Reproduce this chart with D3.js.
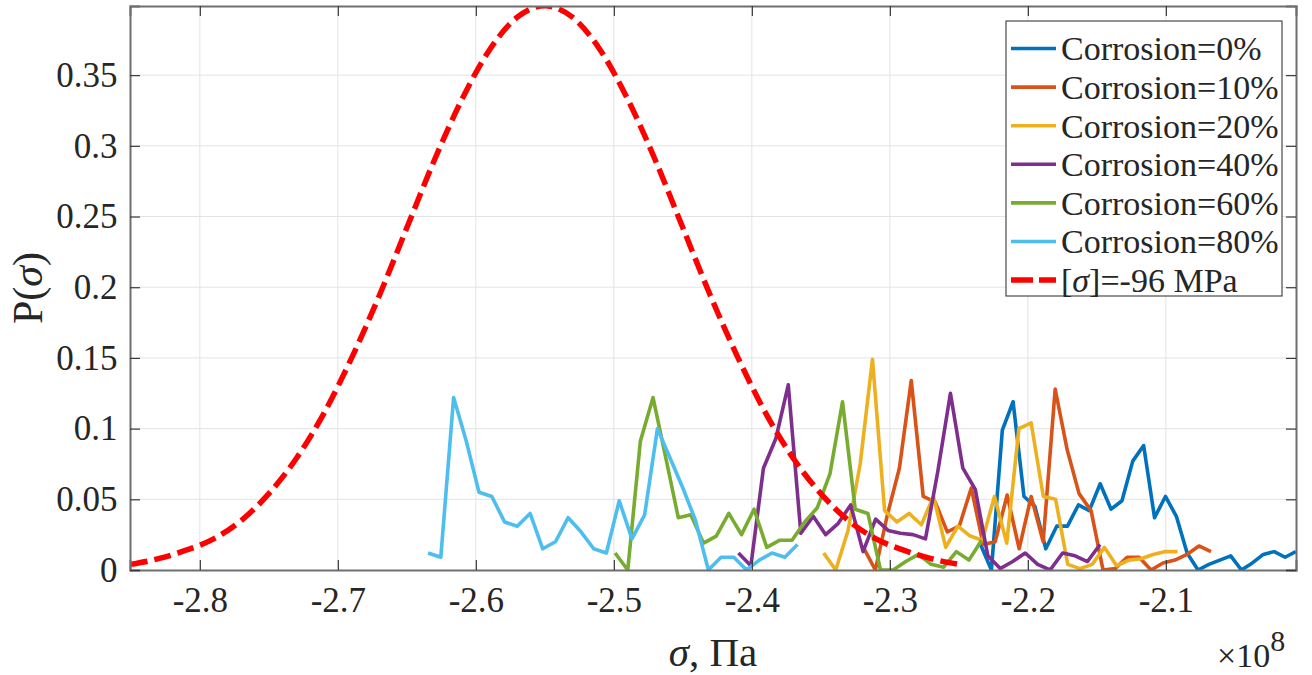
<!DOCTYPE html>
<html>
<head>
<meta charset="utf-8">
<script src="https://cdn.jsdelivr.net/npm/d3@7"></script>
<style>
  body { margin: 0; background: #fff; }
  text { font-family: "Liberation Serif", "Times New Roman", serif; fill: #262626; }
</style>
</head>
<body>
<div id="container"></div>
<script>
const WIDTH = 1312;
const HEIGHT = 675;
const MARGIN = { TOP: 6, RIGHT: 16, BOTTOM: 105, LEFT: 130 };

const width = WIDTH - MARGIN.LEFT - MARGIN.RIGHT;
const height = HEIGHT - MARGIN.TOP - MARGIN.BOTTOM;

// stress in units of 1e8 Pa, probability
const sigma0 = [-2.2343, -2.2264, -2.2185, -2.2107, -2.2028, -2.1949, -2.1870, -2.1791, -2.1713, -2.1634,
                -2.1555, -2.1476, -2.1397, -2.1318, -2.1240, -2.1161, -2.1082, -2.1003, -2.0924, -2.0846,
                -2.0767, -2.0688, -2.0609, -2.0530, -2.0452, -2.0373, -2.0294, -2.0215, -2.0136, -2.0058];
const p0 = [0.018, 0.000, 0.099, 0.119, 0.052, 0.045, 0.015, 0.031, 0.031, 0.046,
            0.042, 0.061, 0.043, 0.049, 0.077, 0.088, 0.037, 0.052, 0.038, 0.012,
            0.000, 0.004, 0.007, 0.010, 0.000, 0.005, 0.011, 0.013, 0.009, 0.013];

const sigma10 = [-2.3192, -2.3105, -2.3018, -2.2931, -2.2845, -2.2758, -2.2671, -2.2584, -2.2497, -2.2410,
                 -2.2323, -2.2237, -2.2150, -2.2063, -2.1976, -2.1889, -2.1802, -2.1715, -2.1629, -2.1542,
                 -2.1455, -2.1368, -2.1281, -2.1194, -2.1107, -2.1021, -2.0934, -2.0847, -2.0760, -2.0673];
const p10 = [0.016, 0.000, 0.039, 0.072, 0.134, 0.052, 0.048, 0.027, 0.031, 0.058,
             0.018, 0.020, 0.053, 0.015, 0.052, 0.020, 0.128, 0.085, 0.054, 0.042,
             0.000, 0.001, 0.009, 0.009, 0.000, 0.005, 0.007, 0.011, 0.017, 0.013];

const sigma20 = [-2.3480, -2.3392, -2.3303, -2.3215, -2.3126, -2.3038, -2.2949, -2.2861, -2.2772, -2.2684,
                 -2.2595, -2.2507, -2.2418, -2.2330, -2.2242, -2.2153, -2.2065, -2.1976, -2.1888, -2.1799,
                 -2.1711, -2.1622, -2.1534, -2.1445, -2.1357, -2.1268, -2.1180, -2.1092, -2.1003, -2.0915];
const p20 = [0.012, 0.000, 0.028, 0.075, 0.149, 0.042, 0.034, 0.040, 0.032, 0.052,
             0.016, 0.031, 0.024, 0.021, 0.052, 0.019, 0.100, 0.104, 0.052, 0.050,
             0.004, 0.001, 0.004, 0.016, 0.003, 0.007, 0.008, 0.011, 0.013, 0.013];

const sigma40 = [-2.4097, -2.4007, -2.3916, -2.3826, -2.3736, -2.3645, -2.3555, -2.3465, -2.3374, -2.3284,
                 -2.3194, -2.3103, -2.3013, -2.2923, -2.2832, -2.2742, -2.2652, -2.2561, -2.2471, -2.2381,
                 -2.2290, -2.2200, -2.2110, -2.2019, -2.1929, -2.1839, -2.1748, -2.1658, -2.1568, -2.1477];
const p40 = [0.012, 0.003, 0.072, 0.093, 0.131, 0.026, 0.038, 0.025, 0.033, 0.046,
             0.013, 0.036, 0.028, 0.026, 0.025, 0.022, 0.070, 0.125, 0.072, 0.057,
             0.010, 0.001, 0.006, 0.012, 0.004, 0.000, 0.012, 0.010, 0.006, 0.018];

const sigma60 = [-2.4991, -2.4899, -2.4808, -2.4716, -2.4625, -2.4533, -2.4442, -2.4350, -2.4258, -2.4167,
                 -2.4075, -2.3984, -2.3892, -2.3800, -2.3709, -2.3617, -2.3526, -2.3434, -2.3343, -2.3251,
                 -2.3159, -2.3068, -2.2976, -2.2885, -2.2793, -2.2701, -2.2610, -2.2518, -2.2427, -2.2335];
const p60 = [0.012, 0.000, 0.091, 0.122, 0.080, 0.037, 0.039, 0.019, 0.024, 0.040,
             0.025, 0.043, 0.016, 0.021, 0.021, 0.034, 0.044, 0.068, 0.119, 0.043,
             0.040, 0.000, 0.000, 0.006, 0.011, 0.004, 0.002, 0.013, 0.007, 0.021];

const sigma80 = [-2.6346, -2.6254, -2.6161, -2.6069, -2.5977, -2.5884, -2.5792, -2.5700, -2.5607, -2.5515,
                 -2.5423, -2.5331, -2.5238, -2.5146, -2.5054, -2.4961, -2.4869, -2.4777, -2.4684, -2.4592,
                 -2.4500, -2.4408, -2.4315, -2.4223, -2.4131, -2.4038, -2.3946, -2.3854, -2.3761, -2.3669];
const p80 = [0.012, 0.009, 0.122, 0.091, 0.055, 0.052, 0.034, 0.031, 0.040, 0.015,
             0.020, 0.037, 0.027, 0.015, 0.012, 0.049, 0.022, 0.039, 0.100, 0.079,
             0.058, 0.035, 0.000, 0.009, 0.009, 0.000, 0.007, 0.012, 0.009, 0.018];

// allowable stress curve
const sigmaAllow = [-2.85, -2.83, -2.81, -2.79, -2.77, -2.75, -2.73, -2.71, -2.69, -2.67, -2.65,
                    -2.63, -2.61, -2.59, -2.57, -2.55, -2.53, -2.51, -2.49, -2.47, -2.45,
                    -2.43, -2.41, -2.39, -2.37, -2.35, -2.33, -2.31, -2.29, -2.27, -2.25];
const pAllow = [0.004, 0.008, 0.014, 0.022, 0.035, 0.054, 0.079, 0.111, 0.150, 0.194, 0.242,
                0.290, 0.333, 0.368, 0.391, 0.399, 0.391, 0.368, 0.333, 0.290, 0.242,
                0.194, 0.150, 0.111, 0.079, 0.054, 0.035, 0.022, 0.014, 0.008, 0.004];

const legendLabels = ['Corrosion=0%', 'Corrosion=10%', 'Corrosion=20%', 'Corrosion=40%',
                      'Corrosion=60%', 'Corrosion=80%'];
const xTicks = [-2.8, -2.7, -2.6, -2.5, -2.4, -2.3, -2.2, -2.1];
const yTicks = [0, 0.05, 0.1, 0.15, 0.2, 0.25, 0.3, 0.35];

const colors = ['#0072BD', '#D95319', '#EDB120', '#7E2F8E', '#77AC30', '#4DBEEE'];

const series = [
  { x: sigma0, y: p0 }, { x: sigma10, y: p10 }, { x: sigma20, y: p20 },
  { x: sigma40, y: p40 }, { x: sigma60, y: p60 }, { x: sigma80, y: p80 }
].map((s, i) => ({ name: legendLabels[i], color: colors[i], points: s.x.map((v, j) => [v, s.y[j]]) }));

const allowPoints = sigmaAllow.map((v, j) => [v, pAllow[j]]);

const svg = d3.select('#container')
              .append('svg')
                .attr('width', WIDTH)
                .attr('height', HEIGHT);

const container = svg.append('g')
                     .attr('transform', `translate(${MARGIN.LEFT}, ${MARGIN.TOP})`);

const xscale = d3.scaleLinear().domain([-2.8506, -2.0057]).range([0, width]);
const yscale = d3.scaleLinear().domain([0, 0.3989]).range([height, 0]);

svg.append('defs').append('clipPath')
     .attr('id', 'clip')
   .append('rect')
     .attr('width', width)
     .attr('height', height);

container.append('rect')
           .attr('width', width)
           .attr('height', height)
           .attr('fill', '#fff');

// grid
container.append('g')
           .selectAll('line')
           .data(xTicks)
           .enter()
           .append('line')
             .attr('x1', d => xscale(d))
             .attr('x2', d => xscale(d))
             .attr('y1', 0)
             .attr('y2', height)
             .attr('stroke', '#e3e3e3')
             .attr('stroke-width', 1);

container.append('g')
           .selectAll('line')
           .data(yTicks.slice(1))
           .enter()
           .append('line')
             .attr('x1', 0)
             .attr('x2', width)
             .attr('y1', d => yscale(d))
             .attr('y2', d => yscale(d))
             .attr('stroke', '#e3e3e3')
             .attr('stroke-width', 1);

// data lines
const line = d3.line()
               .x(d => xscale(d[0]))
               .y(d => yscale(d[1]));

const plot = container.append('g').attr('clip-path', 'url(#clip)');

plot.selectAll('path.series')
    .data(series)
    .enter()
    .append('path')
      .attr('class', 'series')
      .attr('d', d => line(d.points))
      .attr('fill', 'none')
      .attr('stroke', d => d.color)
      .attr('stroke-width', 3.6)
      .attr('stroke-linejoin', 'round');

plot.append('path')
    .attr('d', line.curve(d3.curveMonotoneX)(allowPoints))
    .attr('fill', 'none')
    .attr('stroke', '#FF0000')
    .attr('stroke-width', 5.5)
    .attr('stroke-dasharray', '17,7');

// axes, ticks pointing inward on all four sides
const TICK = 10;
const FONT = '"Liberation Serif", "Times New Roman", serif';
const axisBottom = d3.axisBottom(xscale).tickValues(xTicks).tickSize(-TICK).tickPadding(17)
                     .tickFormat(d => d.toFixed(1));
const axisTop = d3.axisTop(xscale).tickValues(xTicks).tickSize(-TICK).tickFormat('');
const axisLeft = d3.axisLeft(yscale).tickValues(yTicks).tickSize(-TICK).tickPadding(12.5)
                   .tickFormat(d => d === 0 ? '0' : String(+d.toFixed(2)));
const axisRight = d3.axisRight(yscale).tickValues(yTicks).tickSize(-TICK).tickFormat('');

const styleAxis = g => {
  g.attr('font-family', FONT);
  g.select('.domain').attr('stroke', '#6e6e6e').attr('stroke-width', 2);
  g.selectAll('.tick line').attr('stroke', '#3a3a3a').attr('stroke-width', 1.2);
  g.selectAll('.tick text')
   .attr('font-size', 35)
   .attr('fill', '#262626');
};

container.append('g')
           .attr('transform', `translate(0, ${height})`)
           .call(axisBottom)
           .call(styleAxis);
container.append('g').call(axisTop).call(styleAxis);
container.append('g').call(axisLeft).call(styleAxis);
container.append('g')
           .attr('transform', `translate(${width}, 0)`)
           .call(axisRight)
           .call(styleAxis);

// axis labels
const xLabel = container.append('text')
                          .attr('x', width / 2)
                          .attr('y', height + 96)
                          .attr('text-anchor', 'middle')
                          .attr('font-size', 41);
xLabel.append('tspan').attr('font-style', 'italic').text('σ');
xLabel.append('tspan').text(', Πa');

const yLabel = container.append('text')
                          .attr('transform', `translate(-88, ${height / 2}) rotate(-90)`)
                          .attr('text-anchor', 'middle')
                          .attr('font-size', 42);
yLabel.append('tspan').text('P(');
yLabel.append('tspan').attr('font-style', 'italic').text('σ');
yLabel.append('tspan').text(')');

const expo = container.append('text')
                        .attr('x', width - 79)
                        .attr('y', height + 97)
                        .attr('font-size', 34);
expo.append('tspan').text('×10');
expo.append('tspan').attr('dy', -16).attr('font-size', 30).text('8');

// legend
const LEG = { X: 876, Y: 15, W: 276, H: 275, ROW: 38.6, FIRST: 27.5 };
const legend = container.append('g')
                          .attr('transform', `translate(${LEG.X}, ${LEG.Y})`);

legend.append('rect')
        .attr('width', LEG.W)
        .attr('height', LEG.H)
        .attr('fill', '#fff')
        .attr('stroke', '#262626')
        .attr('stroke-width', 1);

const legendItems = [...series.map(s => ({ name: s.name, color: s.color, dashed: false })),
                     { name: null, color: '#FF0000', dashed: true }];

const rows = legend.selectAll('g.row')
                   .data(legendItems)
                   .enter()
                   .append('g')
                     .attr('class', 'row')
                     .attr('transform', (d, i) => `translate(0, ${LEG.FIRST + i * LEG.ROW})`);

rows.append('line')
      .attr('x1', 5)
      .attr('x2', 50)
      .attr('stroke', d => d.color)
      .attr('stroke-width', d => d.dashed ? 5.5 : 3.6)
      .attr('stroke-dasharray', d => d.dashed ? '22,6' : null);

rows.append('text')
      .attr('x', 55)
      .attr('dy', '0.35em')
      .attr('font-size', 34)
      .each(function (d) {
        const t = d3.select(this);
        if (d.name) {
          t.text(d.name);
        } else {
          t.append('tspan').text('[');
          t.append('tspan').attr('font-style', 'italic').text('σ');
          t.append('tspan').text(']=-96 MPa');
        }
      });
</script>
</body>
</html>
